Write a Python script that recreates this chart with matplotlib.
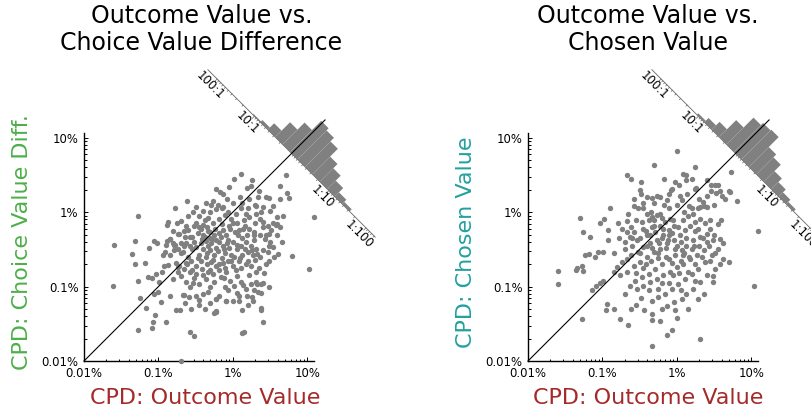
import numpy as np
import matplotlib
matplotlib.use("Agg")
import matplotlib.pyplot as plt
from matplotlib.patches import Polygon
from matplotlib.ticker import FixedLocator, LogLocator, NullFormatter

# ---------------- data (log10 of CPD in percent) ----------------
# left panel: (CPD outcome value, CPD choice value difference)
left_points = [
    (-1.60, -0.44), (-1.61, -0.99), (-1.27, -0.05), (-1.31, -0.39), (-1.35, -0.56), (-1.31, -0.70),
    (-1.27, -0.93), (-1.25, -1.15), (-1.27, -1.59), (-1.17, -1.29), (-1.18, -0.68), (-1.12, -0.48),
    (-1.06, -0.39), (-1.02, -0.42), (-1.08, -1.56), (-1.07, -1.47), (-1.04, -1.38), (-1.14, -0.87),
    (-1.08, -0.88), (-1.03, -0.83), (-0.99, -0.94), (-0.96, -1.21), (-0.90, -1.47), (-1.00, -1.07),
    (-1.06, -1.10), (-0.92, -0.72), (-0.87, -0.71), (-0.94, -0.58), (-0.91, -0.54), (-0.90, -0.44),
    (-0.78, 0.05), (-0.87, -0.13), (-0.88, -0.17), (-0.75, -0.15), (-0.72, -0.29), (-0.78, -0.44),
    (-0.80, -0.41), (-0.88, -0.39), (-0.85, -0.36), (-0.76, -0.68), (-0.74, -0.73), (-0.66, -1.11),
    (-0.76, -1.31), (-0.71, -1.31), (-0.57, -1.61), (-0.52, -1.67), (-0.56, -1.30), (-0.46, -1.18),
    (-0.37, -1.30), (-0.46, -1.25), (-0.25, -1.36), (-0.23, -1.16), (-0.22, -1.33), (-0.18, -1.12),
    (-0.70, -2.00),
    (0.13, -1.62), (0.15, -1.61), (0.40, -1.48), (0.38, -1.29), (0.26, -1.14), (0.09, -1.20),
    (0.00, -1.20), (-0.09, -1.19), (0.29, -1.05), (0.38, -1.08), (0.32, -0.96), (0.41, -0.95),
    (1.09, -0.06), (1.03, -0.76), (0.80, -0.59), (0.59, -0.16), (0.63, -0.20),
    (0.11, 0.51), (0.01, 0.44), (0.26, 0.43), (-0.22, 0.31), (-0.17, 0.27), (-0.13, 0.24),
    (0.19, 0.33), (0.25, 0.35), (0.35, 0.28), (0.34, 0.21), (0.45, 0.21), (0.48, 0.19),
    (0.63, 0.35), (0.71, 0.50), (0.73, 0.26), (0.75, 0.19), (0.63, 0.18), (0.54, 0.09),
    (0.40, 0.07), (0.30, 0.10), (0.20, 0.05), (0.10, 0.20), (-0.05, 0.34), (-0.27, 0.15),
    (-0.29, 0.10), (-0.20, 0.10), (-0.13, 0.07), (-0.62, 0.15), (0.31, 0.09),
    (-0.63, -0.18), (-0.73, -0.29), (-0.64, -0.33), (-0.55, -0.34), (-0.49, -0.15), (-0.54, 0.00),
    (-0.52, -0.18), (-0.45, -0.20), (-0.79, -0.44), (-0.85, -0.36), (-0.79, -0.51), (-0.74, -0.50),
    (-0.70, -0.42), (-0.63, -0.42), (-0.57, -0.45), (-0.67, -0.54),
    (-0.34, -0.08), (-0.38, -0.11), (-0.22, 0.04), (-0.14, 0.06), (-0.11, -0.04), (-0.18, -0.09),
    (-0.27, -0.15), (-0.35, -0.20), (-0.43, -0.23), (-0.40, -0.30), (-0.31, -0.27), (-0.25, -0.31),
    (-0.19, -0.28), (-0.13, -0.24), (-0.22, -0.38), (-0.29, -0.42), (-0.36, -0.39), (-0.43, -0.41),
    (-0.49, -0.47), (-0.31, -0.51), (-0.22, -0.48), (-0.13, -0.45), (-0.07, -0.38), (-0.09, -0.31),
    (-0.04, -0.22), (0.00, -0.15), (-0.02, -0.09), (-0.07, 0.00), (0.04, -0.03),
    (0.11, 0.05), (0.18, -0.03), (0.22, -0.06), (0.31, -0.03), (0.36, -0.09), (0.40, -0.13),
    (0.47, -0.18), (0.54, -0.14), (0.58, -0.17), (0.49, -0.29), (0.43, -0.36), (0.36, -0.31),
    (0.29, -0.27), (0.22, -0.22), (0.16, -0.18), (0.09, -0.24), (0.07, -0.31), (0.00, -0.40),
    (0.11, -0.45), (0.18, -0.40), (0.25, -0.45), (0.31, -0.49), (0.40, -0.51), (0.47, -0.54),
    (0.54, -0.47), (0.61, -0.56), (0.49, -0.66), (0.36, -0.60), (0.27, -0.58), (0.20, -0.54),
    (0.13, -0.58),
    (-0.72, -0.72), (-0.63, -0.68), (-0.56, -0.65), (-0.49, -0.72), (-0.43, -0.65), (-0.36, -0.60),
    (-0.29, -0.67), (-0.22, -0.72), (-0.13, -0.68), (-0.07, -0.65), (0.00, -0.72), (0.04, -0.78),
    (0.11, -0.75), (0.18, -0.69), (0.25, -0.72), (0.31, -0.81), (-0.09, -0.81), (-0.18, -0.78),
    (-0.27, -0.83), (-0.34, -0.80), (-0.40, -0.85), (-0.49, -0.83), (-0.58, -0.81), (-0.65, -0.76),
    (-0.74, -0.80), (-0.81, -0.90), (-0.63, -0.94), (-0.54, -0.95), (-0.45, -0.96), (-0.36, -0.90),
    (-0.25, -0.94), (-0.16, -0.87), (-0.04, -0.92), (0.02, -0.99), (0.11, -0.94), (0.18, -1.03),
    (0.31, -0.94), (0.38, -0.96), (0.34, -1.07),
    (-0.85, -1.12), (-0.67, -1.11), (-0.59, -1.14), (-0.50, -1.13), (-0.40, -1.10), (-0.34, -1.07),
    (-0.22, -1.17), (-0.09, -1.19), (-0.07, -1.05), (0.09, -1.12), (0.19, -1.13), (0.27, -1.19),
    (0.38, -1.31), (0.13, -1.32), (-0.22, -1.34),
    (-0.30, -0.35), (-0.18, -0.40), (-0.10, -0.55), (0.05, -0.50), (0.02, -0.60), (-0.05, -0.48),
    (-0.40, -0.50), (-0.45, -0.58), (-0.55, -0.50), (-0.60, -0.60), (-0.25, -0.58), (-0.15, -0.62),
    (0.08, -0.65), (0.12, -0.35), (0.28, -0.38), (0.05, -0.15), (0.15, -0.10), (-0.35, -0.70),
    (-0.55, -0.78), (0.22, -0.85), (0.35, -0.75), (0.45, -0.70), (0.40, -0.20), (0.30, -0.15),
    (-0.65, -0.25), (-0.70, -0.55), (-0.45, -0.05), (-0.30, 0.00), (-0.60, -0.05), (0.50, -0.40),
    (0.55, -0.60), (0.60, -0.30), (0.68, -0.05), (0.66, -0.40),
    (-0.38, -0.33), (-0.33, -0.45), (-0.28, -0.36), (-0.20, -0.52), (-0.16, -0.33), (-0.12, -0.50),
    (-0.08, -0.42), (-0.03, -0.57), (-0.35, -0.55), (-0.42, -0.36), (-0.47, -0.62), (-0.52, -0.40),
    (-0.58, -0.33), (-0.26, -0.64), (-0.19, -0.70), (-0.11, -0.75), (-0.02, -0.66), (0.06, -0.44),
    (0.10, -0.62), (0.16, -0.50), (0.21, -0.66), (0.26, -0.51), (0.33, -0.56), (0.28, -0.30),
    (0.19, -0.30), (0.14, -0.22), (0.03, -0.26), (-0.05, -0.18), (-0.15, -0.16), (-0.24, -0.22),
    (-0.33, -0.25), (-0.40, -0.17), (-0.47, -0.28), (-0.60, -0.24), (-0.66, -0.46), (-0.62, -0.70),
    (-0.52, -0.88), (-0.42, -0.76), (-0.31, -0.78), (-0.12, -0.88), (0.06, -0.86), (0.14, -0.98),
    (0.24, -0.96), (0.42, -0.82), (0.48, -0.46), (0.44, -0.30), (0.52, -0.24), (0.30, -0.64),
    (-0.70, -0.86), (-0.58, -1.00), (-0.30, -1.00), (-0.10, -1.00), (0.05, -1.08), (-0.50, 0.07),
    (-0.40, 0.02), (0.00, 0.12), (0.12, 0.12), (0.22, 0.18), (-0.08, 0.18), (0.38, 0.00),
    (0.50, 0.02), (0.60, -0.06), (-0.36, 0.12), (-0.70, -0.12), (-0.80, -0.25), (-0.84, -0.58),
    (-0.95, -0.80), (-0.64, -1.22), (-0.30, -1.22), (0.20, -1.25), (0.48, -1.00),
]

# right panel: (CPD outcome value, CPD chosen value)
right_points = [
    (0.00, 0.82), (-0.31, 0.63), (0.25, 0.61), (-0.67, 0.50), (-0.62, 0.45), (-0.48, 0.40),
    (-0.17, 0.45), (-0.06, 0.31), (0.03, 0.36), (0.08, 0.52), (0.12, 0.50), (0.13, 0.43),
    (0.20, 0.45), (0.24, 0.31), (0.26, 0.32), (0.41, 0.43), (0.46, 0.36), (0.52, 0.37),
    (0.56, 0.36), (0.46, 0.29), (0.53, 0.26), (0.58, 0.28), (0.70, 0.29), (0.72, 0.27),
    (0.73, 0.54), (0.81, 0.15), (0.65, 0.18), (0.61, 0.22), (0.37, 0.09), (0.35, 0.14),
    (0.40, 0.07), (0.31, 0.07), (0.28, 0.05), (0.17, 0.09), (0.20, 0.05), (0.07, 0.16),
    (0.04, 0.22), (-0.11, 0.25), (-0.08, 0.30), (-0.13, 0.16), (-0.22, 0.21), (-0.27, 0.22),
    (-0.34, 0.19), (-0.40, 0.21), (-0.49, 0.30), (-0.48, 0.25), (-0.57, 0.08), (-0.52, 0.05),
    (-0.45, 0.05), (-0.40, -0.03), (-0.33, -0.06), (-0.27, -0.04), (-0.22, -0.02),
    (-0.90, 0.05), (-0.98, -0.09), (-1.30, -0.08), (-1.26, -0.26), (-1.16, -0.33), (-1.03, -0.15),
    (-0.92, -0.24), (-0.92, -0.38), (-0.99, -0.54), (-1.06, -0.54), (-1.10, -0.60), (-1.18, -0.56),
    (-1.24, -0.58), (-1.28, -0.72), (-1.34, -0.75), (-1.35, -0.78), (-1.26, -0.79), (-1.60, -0.79),
    (-1.60, -0.96), (-1.27, -1.43), (-1.14, -1.05), (-1.08, -0.99), (-1.03, -0.95), (-0.99, -0.93),
    (-0.34, -1.80), (-0.66, -1.52), (-0.76, -1.43), (-0.94, -1.23), (-0.95, -1.31), (-0.85, -1.30),
    (-0.62, -1.30), (-0.44, -1.31), (-0.34, -1.37), (-0.34, -1.45), (-0.22, -1.46), (-0.13, -1.65),
    (-0.07, -1.58), (-0.02, -1.32), (0.07, -1.17), (0.29, -1.16), (0.31, -1.70), (0.37, -1.10),
    (0.49, -0.86), (0.49, -0.94), (0.70, -0.67), (0.62, -0.63), (0.62, -0.41), (0.58, -0.36),
    (1.09, -0.25), (1.04, -0.99), (0.55, -0.16),
    (-0.79, -0.15), (-0.74, -0.23), (-0.67, -0.12), (-0.67, -0.27), (-0.61, -0.20), (-0.63, -0.33),
    (-0.57, -0.27), (-0.54, -0.38), (-0.47, -0.13), (-0.45, -0.22), (-0.40, -0.31), (-0.34, -0.20),
    (-0.29, -0.27), (-0.22, -0.18), (-0.16, -0.13), (-0.09, -0.09), (-0.04, -0.18), (-0.11, -0.24),
    (-0.18, -0.31), (-0.27, -0.38), (-0.36, -0.42), (-0.45, -0.47), (-0.52, -0.54), (-0.61, -0.58),
    (-0.67, -0.63), (-0.74, -0.67), (-0.81, -0.74), (-0.85, -0.81), (-0.76, -0.85), (-0.67, -0.81),
    (-0.58, -0.72), (-0.49, -0.67), (-0.40, -0.60), (-0.31, -0.54), (-0.22, -0.49), (-0.13, -0.42),
    (-0.04, -0.38), (0.04, -0.31), (0.11, -0.24), (0.18, -0.18), (0.25, -0.13), (0.31, -0.09),
    (0.38, -0.15), (0.45, -0.22), (0.40, -0.29), (0.31, -0.33), (0.22, -0.38), (0.13, -0.45),
    (0.07, -0.51), (-0.02, -0.58), (-0.11, -0.63), (-0.20, -0.69), (-0.29, -0.76), (-0.38, -0.83),
    (-0.47, -0.87), (-0.56, -0.92), (-0.63, -0.99), (-0.54, -1.03), (-0.45, -0.99), (-0.36, -0.94),
    (-0.27, -0.90), (-0.18, -0.85), (-0.09, -0.81), (0.00, -0.74), (0.09, -0.69), (0.18, -0.63),
    (0.27, -0.58), (0.36, -0.51), (0.43, -0.45), (0.49, -0.38), (0.56, -0.49), (0.47, -0.58),
    (0.38, -0.67), (0.29, -0.76), (0.20, -0.83), (0.11, -0.90), (0.02, -0.96), (-0.07, -1.03),
    (-0.16, -1.10), (-0.25, -1.14), (-0.34, -1.19), (-0.13, -1.26), (-0.04, -1.21), (0.13, -1.10),
    (0.22, -1.03), (0.31, -0.94), (0.40, -0.85), (0.52, -0.76), (0.58, -0.69),
    (-0.30, -0.10), (-0.20, -0.35), (-0.10, -0.30), (0.00, -0.45), (0.10, -0.55), (-0.05, -0.10),
    (0.15, -0.05), (-0.40, -0.45), (-0.25, -0.55), (-0.15, -0.60), (0.05, -0.65), (0.20, -0.50),
    (0.25, -0.25), (-0.50, -0.35), (-0.55, -0.10), (-0.35, 0.00), (-0.10, 0.05), (0.10, 0.00),
    (0.30, -0.45), (0.35, -0.35), (-0.45, -0.75), (-0.60, -0.45), (-0.70, -0.40), (-0.20, -0.95),
    (0.15, -0.80), (0.45, -0.10), (0.50, -0.30), (-0.05, -0.85), (0.25, -0.70), (-0.35, -0.65),
    (-0.42, -0.25), (-0.36, -0.30), (-0.30, -0.18), (-0.24, -0.42), (-0.18, -0.22), (-0.12, -0.38),
    (-0.06, -0.28), (0.02, -0.20), (0.06, -0.40), (0.12, -0.35), (0.16, -0.60), (0.23, -0.45),
    (0.28, -0.22), (0.34, -0.60), (0.40, -0.40), (-0.50, -0.55), (-0.42, -0.70), (-0.33, -0.48),
    (-0.25, -0.62), (-0.15, -0.48), (-0.06, -0.68), (0.03, -0.82), (0.08, -0.58), (-0.02, -0.50),
    (-0.20, -0.08), (-0.38, -0.10), (-0.46, 0.12), (-0.30, 0.12), (-0.17, 0.10), (0.00, 0.10),
    (0.08, -0.10), (0.22, -0.02), (0.30, 0.18), (0.14, 0.25), (-0.02, 0.40), (-0.60, -0.35),
    (-0.70, -0.50), (-0.78, -0.35), (-0.66, -0.02), (-0.58, 0.18), (-0.85, -0.55), (-0.55, -0.82),
    (-0.38, -1.05), (-0.25, -1.03), (-0.10, -0.95), (0.05, -1.05), (0.25, -0.92), (0.45, -0.65),
    (0.52, -0.55), (0.60, -0.10), (0.50, 0.10), (0.40, 0.22), (-0.48, -1.15), (-0.70, -1.10),
    (-0.55, -1.25), (0.15, -1.30), (0.00, -1.42), (-0.20, -1.30),
]

# histograms of log10(y/x), bins running from upper-left (y >> x) to lower-right
hist_edges = [1.04, 0.84, 0.64, 0.44, 0.24, 0.04, -0.16, -0.36, -0.56, -0.76, -0.96, -1.16, -1.36, -1.56]
left_hist_counts = [1, 3, 9, 21, 31, 44, 41, 36, 25, 19, 12, 6, 3]
right_hist_counts = [2, 6, 11, 24, 38, 41, 42, 28, 24, 15, 10, 6, 3]

titles = ["Outcome Value vs.\nChoice Value Difference", "Outcome Value vs.\nChosen Value"]
ylabels = ["CPD: Choice Value Diff.", "CPD: Chosen Value"]
xlabel = "CPD: Outcome Value"
tick_values = [0.01, 0.1, 1, 10]
tick_labels = ["0.01%", "0.1%", "1%", "10%"]
ratio_ticks = [2, 1, -1, -2]            # log10(y/x)
ratio_labels = ["100:1", "10:1", "1:10", "1:100"]

# ---------------- style ----------------
ylabel_colors = ["#4DAF4A", "#22A0A0"]
xlabel_color = "#A52A2A"
gray = "#808080"
W, H = 812, 412
PX = 74.4                  # pixels per decade
hist_center = 0.79         # log10(%) where histogram base crosses the diagonal
count_unit = 1.0 / PX      # decades of bar height per count
axis_half = 2.25           # half-length of the ratio axis (decades of ratio)
diag_end = 1.24            # log10(%)

plt.rcParams["font.family"] = ["DejaVu Sans"]
fig = plt.figure(figsize=(W / 100, H / 100), dpi=100)

s2 = np.sqrt(2.0)


def base_pt(v, c):
    return np.array([c - v / 2.0, c + v / 2.0])


def draw_panel(ax, pts, counts, title, ylab, ycol, xl_x, title_x):
    pts = np.asarray(pts, dtype=float)
    lx, ly = pts[:, 0], pts[:, 1]
    ax.set_xscale("log")
    ax.set_yscale("log")
    ax.set_xlim(0.01, 10 ** (-2 + 230 / PX))
    ax.set_ylim(0.01, 10 ** (-2 + 228 / PX))
    for sp in ["top", "right"]:
        ax.spines[sp].set_visible(False)
    for sp in ["left", "bottom"]:
        ax.spines[sp].set_linewidth(1.0)
    for axis in (ax.xaxis, ax.yaxis):
        axis.set_major_locator(FixedLocator(tick_values))
        axis.set_minor_locator(LogLocator(base=10, subs=np.arange(2, 10)))
        axis.set_minor_formatter(NullFormatter())
    ax.set_xticks(tick_values)
    ax.set_xticklabels(tick_labels)
    ax.set_yticks(tick_values)
    ax.set_yticklabels(tick_labels)
    ax.tick_params(which="both", direction="in", width=0.7, labelsize=8.4, pad=4)
    ax.tick_params(which="major", length=2.6)
    ax.tick_params(which="minor", length=1.8)

    # scatter
    ax.scatter(10 ** lx, 10 ** ly, s=15, c=gray, linewidths=0, clip_on=False, zorder=3)

    # histogram along the anti-diagonal
    c = hist_center
    for k, v0, v1 in zip(counts, hist_edges[:-1], hist_edges[1:]):
        if k == 0:
            continue
        h = k * count_unit
        off = np.array([h / s2, h / s2])
        corners = [base_pt(v0, c), base_pt(v1, c), base_pt(v1, c) + off, base_pt(v0, c) + off]
        corners = [10 ** p for p in corners]
        ax.add_patch(Polygon(corners, closed=True, facecolor=gray, edgecolor="none",
                             clip_on=False, zorder=4))

    # ratio axis line
    a, b = base_pt(axis_half, c), base_pt(-axis_half, c)
    ax.plot(10 ** np.array([a[0], b[0]]), 10 ** np.array([a[1], b[1]]), color="#666666",
            lw=0.6, clip_on=False, zorder=3.5)
    minor_vals = []
    for n in range(-3, 3):
        for m in range(2, 10):
            v = np.log10(m) + n
            if abs(v) <= axis_half:
                minor_vals.append(v)
    for v, ln in [(t, 3.0) for t in ratio_ticks] + [(t, 1.6) for t in minor_vals]:
        p = base_pt(v, c)
        d = ln / PX / s2
        ax.plot(10 ** np.array([p[0], p[0] - d]), 10 ** np.array([p[1], p[1] - d]),
                color="#666666", lw=0.5, clip_on=False, zorder=3.5)
    for v, lab in zip(ratio_ticks, ratio_labels):
        p = base_pt(v, c) - 9.5 / PX / s2
        ax.text(10 ** p[0], 10 ** p[1], lab, rotation=-45, rotation_mode="anchor",
                ha="center", va="center", fontsize=8.5, clip_on=False, zorder=6)

    # diagonal
    ax.plot([0.01, 10 ** diag_end], [0.01, 10 ** diag_end], color="k", lw=0.8,
            clip_on=False, zorder=5)

    # labels and title
    ax.text(-0.27, 0.52, ylab, transform=ax.transAxes, rotation=90, ha="center",
            va="center", fontsize=16, color=ycol)
    ax.text(xl_x, -0.162, xlabel, transform=ax.transAxes, ha="center", va="center",
            fontsize=16, color=xlabel_color)
    ax.text(title_x, (361 - 4) / 228, title, transform=ax.transAxes, ha="center",
            va="top", fontsize=17, linespacing=1.17)


panels = [(84, left_points, left_hist_counts), (528, right_points, right_hist_counts)]
for i, (x0, pts, counts) in enumerate(panels):
    ax = fig.add_axes([x0 / W, (H - 361) / H, 230 / W, 228 / H])
    draw_panel(ax, pts, counts, titles[i], ylabels[i], ylabel_colors[i],
               [0.526, 0.522][i], [0.51, 0.52][i])

fig.savefig("out.png", dpi=100)
